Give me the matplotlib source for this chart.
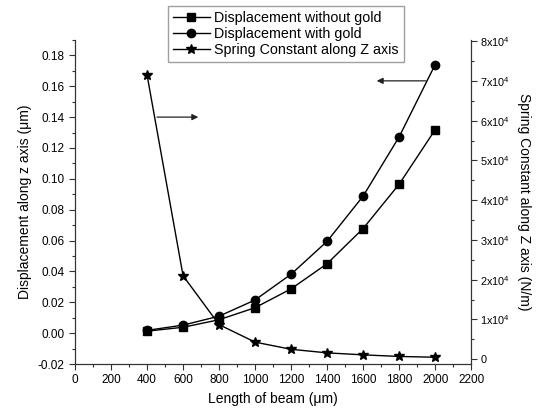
import numpy as np
import matplotlib.pyplot as plt
from matplotlib.ticker import MultipleLocator, FuncFormatter

plt.rcParams['font.family'] = ['Liberation Sans', 'DejaVu Sans']
plt.rcParams['mathtext.fontset'] = 'custom'
plt.rcParams['mathtext.rm'] = 'Liberation Sans'
plt.rcParams['mathtext.it'] = 'Liberation Sans'

length = [400, 600, 800, 1000, 1200, 1400, 1600, 1800, 2000]
disp_no_gold = [0.0013, 0.0038, 0.0087, 0.0165, 0.0287, 0.0450, 0.0678, 0.0965, 0.1318]
disp_gold = [0.0018, 0.0052, 0.0110, 0.0215, 0.0382, 0.0595, 0.0888, 0.1272, 0.1740]
spring_k = [71500, 21000, 8700, 4300, 2500, 1600, 1100, 700, 500]

fig = plt.figure(figsize=(5.36, 4.12), dpi=100)
ax = fig.add_axes([0.140, 0.1165, 0.739, 0.7865])
ax2 = ax.twinx()

l1, = ax.plot(length, disp_no_gold, "k-", marker="s", ms=5.5, lw=1,
              label="Displacement without gold")
l2, = ax.plot(length, disp_gold, "k-", marker="o", ms=6, lw=1,
              label="Displacement with gold")
l3, = ax2.plot(length, spring_k, "k-", marker="*", ms=7, lw=1,
               label="Spring Constant along Z axis")

ax.set_xlim(0, 2200)
ax.set_ylim(-0.02, 0.19)
ax2.set_ylim(-1200, 80300)

ax.xaxis.set_major_locator(MultipleLocator(200))
ax.xaxis.set_minor_locator(MultipleLocator(100))
ax.yaxis.set_major_locator(MultipleLocator(0.02))
ax.yaxis.set_minor_locator(MultipleLocator(0.01))
ax.yaxis.set_major_formatter(FuncFormatter(lambda v, p: f"{v:.2f}"))
ax2.yaxis.set_major_locator(MultipleLocator(10000))
ax2.yaxis.set_minor_locator(MultipleLocator(5000))


def kfmt(v, p):
    n = int(round(v / 10000))
    return "0" if n == 0 else rf"{n}x10$^{{4}}$"


ax2.yaxis.set_major_formatter(FuncFormatter(kfmt))

for a in (ax, ax2):
    a.spines["top"].set_visible(False)
    a.tick_params(which="major", direction="out", length=4, width=0.8,
                  labelsize=8.5, color="#333333")
    a.tick_params(which="minor", direction="out", length=2.5, width=0.8,
                  color="#333333")
    for s in a.spines.values():
        s.set_color("#333333")
ax2.tick_params(which="major", labelsize=7.8, pad=2.5)

ax.set_xlabel("Length of beam (μm)", fontsize=10)
ax.set_ylabel("Displacement along z axis (μm)", fontsize=10)
# right-hand label placed by hand, reading top to bottom
fig.text(524 / 536, 0.51, "Spring Constant along Z axis (N/m)", fontsize=10,
         rotation=270, ha="center", va="center")

# arrows pointing to the matching axis
arrow = dict(arrowstyle="-|>", color="#222222", lw=0.9, mutation_scale=9)
ax.annotate("", xy=(700, 0.140), xytext=(440, 0.140), arrowprops=arrow)
ax.annotate("", xy=(1660, 0.1635), xytext=(1965, 0.1635), arrowprops=arrow)

fig.legend(handles=[l1, l2, l3], loc="upper left",
           bbox_to_anchor=(0.313, 0.985), fontsize=10.3, frameon=True,
           fancybox=False, edgecolor="#888888", borderpad=0.35,
           labelspacing=0.12, handlelength=2.6, handletextpad=0.3,
           borderaxespad=0)

fig.savefig("out.png", dpi=100)
